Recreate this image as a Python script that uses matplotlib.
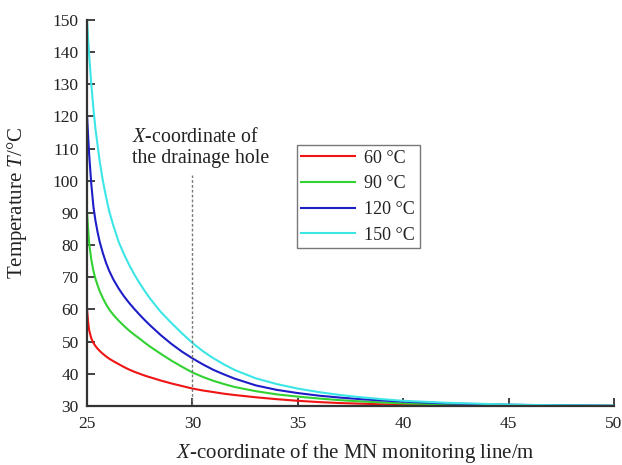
import matplotlib
matplotlib.use("Agg")
from matplotlib import pyplot as plt

plt.rcParams['font.family'] = ['Liberation Serif', 'DejaVu Serif']
plt.rcParams['mathtext.fontset'] = 'custom'
plt.rcParams['mathtext.rm'] = 'Liberation Serif'
plt.rcParams['mathtext.it'] = 'Liberation Serif:italic'

# distance along the MN monitoring line (m)
x_pos = [25, 25.05, 25.1, 25.2, 25.3, 25.4, 25.5, 25.6, 25.75, 25.9,
         26.05, 26.25, 26.5, 26.75, 27, 27.25, 27.5, 27.75, 28, 28.5,
         29, 29.5, 30, 30.5, 31, 31.5, 32, 33, 34, 35,
         36, 37, 38, 39, 40, 42, 44, 46, 50]

temp_60 = [60, 56, 53.5, 51, 49.6, 48.6, 47.8, 47.1, 46.2, 45.4,
           44.7, 43.9, 43, 42.1, 41.3, 40.6, 40, 39.4, 38.9, 37.9,
           37, 36.2, 35.4, 34.8, 34.3, 33.8, 33.4, 32.7, 32.1, 31.6,
           31.2, 30.9, 30.7, 30.5, 30.4, 30.2, 30.1, 30.05, 30]
temp_90 = [90, 85, 80.5, 75.5, 72, 69.5, 67.5, 65.7, 63.5, 61.6,
           60, 58.3, 56.5, 54.9, 53.4, 52.1, 50.9, 49.6, 48.4, 46.2,
           44.1, 42.2, 40.4, 39, 37.8, 36.8, 35.9, 34.6, 33.6, 32.9,
           32.3, 31.8, 31.4, 31.1, 30.8, 30.5, 30.3, 30.15, 30]
temp_120 = [120, 114, 108, 99, 92, 87.5, 84, 81, 77.5, 74.5,
            72, 69.3, 66.5, 64.1, 62, 60.1, 58.3, 56.6, 55, 52,
            49.3, 46.9, 44.8, 42.9, 41.2, 39.8, 38.5, 36.4, 35, 34,
            33.2, 32.6, 32.1, 31.7, 31.35, 30.8, 30.5, 30.3, 30.05]
temp_150 = [150, 144, 139, 130, 122.5, 116, 111, 106, 100, 95,
            90.5, 86, 81, 77.2, 73.8, 70.8, 68.1, 65.6, 63.3, 59.2,
            55.8, 52.6, 49.6, 47, 44.8, 42.9, 41.2, 38.6, 36.8, 35.4,
            34.3, 33.4, 32.7, 32.1, 31.6, 31, 30.6, 30.3, 30.1]

series_labels = ['60 \u00b0C', '90 \u00b0C', '120 \u00b0C', '150 \u00b0C']
series_colors = ['#f01414', '#32d232', '#1e1ec8', '#3ce6e6']
drain_x = 30

fig = plt.figure(figsize=(6.22, 4.65), dpi=100)
ax = fig.add_axes([0.14, 0.127, 0.847, 0.83])

for temps, lab, col in zip([temp_60, temp_90, temp_120, temp_150], series_labels, series_colors):
    ax.plot(x_pos, temps, color=col, lw=1.5, label=lab)

# drainage hole marker
ax.vlines(drain_x, 30, 101.8, colors='#777777', linestyles=(0, (2, 1.5)), lw=1)
ax.text(27.14, 116.3, '$X$-coordinate of\nthe drainage hole', ha='left', va='top',
        fontsize=14.3, color='#222222', linespacing=1.1)

ax.set_xlim(25, 50)
ax.set_ylim(30, 150)
ax.set_xticks(range(25, 51, 5))
ax.set_yticks(range(30, 151, 10))
ax.tick_params(direction='in', length=6, width=1.3, colors='#333333', labelsize=12.5,
               labelcolor='#222222')
ax.tick_params(axis='y', pad=6)
ax.tick_params(axis='x', pad=7)
for s in ['top', 'right']:
    ax.spines[s].set_visible(False)
for s in ['left', 'bottom']:
    ax.spines[s].set_linewidth(1.6)
    ax.spines[s].set_color('#333333')

ax.set_xlabel('$X$-coordinate of the MN monitoring line/m', fontsize=15, color='#222222',
              labelpad=5)
ax.xaxis.set_label_coords(0.51, -0.09)
ax.set_ylabel('Temperature $T$/\u00b0C', fontsize=15, color='#222222')
ax.yaxis.set_label_coords(-0.11, 0.525)

leg = ax.legend(loc='upper left', bbox_to_anchor=(0.398, 0.676), fontsize=13, frameon=True,
                fancybox=False, edgecolor='#555555', handlelength=2.95, labelspacing=0.48,
                borderpad=0.25, handletextpad=0.55, borderaxespad=0)
leg.get_frame().set_linewidth(1)
for t in leg.get_texts():
    t.set_color('#222222')

fig.savefig('out.png', dpi=100)
